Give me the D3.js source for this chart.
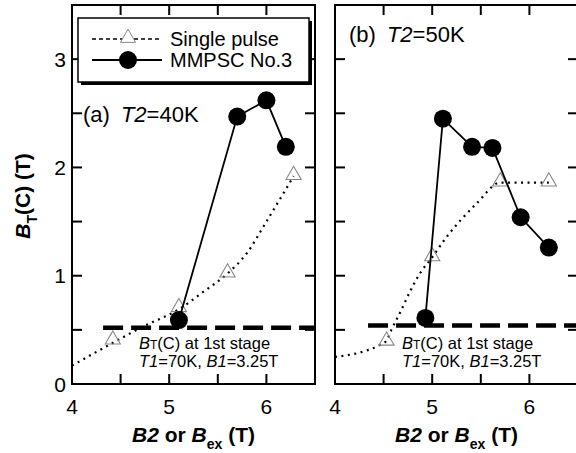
<!DOCTYPE html>
<html>
<head>
<meta charset="UTF-8" />
<style>
  body { margin: 0; background: #fff; }
  svg { font-family: "Liberation Sans", Arial, sans-serif; }
</style>
</head>
<body>
<svg id="chart" width="576" height="453"></svg>
<script src="https://cdnjs.cloudflare.com/ajax/libs/d3/7.8.5/d3.min.js"></script>
<script>
// values
const xTicks = [4, 5, 6];
const yTicks = [0, 1, 2, 3];
const minorX = [4, 4.5, 5, 5.5, 6];
const minorY = [0, 0.5, 1, 1.5, 2, 2.5, 3];

const pulseA = [[4.42, 0.40], [5.1, 0.70], [5.6, 1.02], [6.28, 1.92]];
const fitA = [[4.0, 0.17], [4.42, 0.38], [4.73, 0.53], [5.1, 0.69], [5.35, 0.85], [5.6, 1.02], [5.8, 1.21], [6.0, 1.5], [6.28, 1.92]];
const mmpscA = [[5.1, 0.59], [5.7, 2.47], [6.0, 2.62], [6.2, 2.19]];

const pulseB = [[4.53, 0.39], [5.0, 1.17], [5.7, 1.86], [6.2, 1.86]];
const fitB = [[4.0, 0.25], [4.46, 0.36], [4.53, 0.40], [4.58, 0.50], [4.67, 0.66], [4.77, 0.85], [4.88, 1.03], [5.0, 1.17], [5.15, 1.36], [5.3, 1.52], [5.46, 1.67], [5.7, 1.86], [6.2, 1.86]];
const mmpscB = [[4.93, 0.61], [5.11, 2.45], [5.41, 2.19], [5.62, 2.18], [5.91, 1.54], [6.2, 1.26]];

const firstStageA = { x0: 4.32, y: 0.52 };
const firstStageB = { x0: 4.34, y: 0.54 };

const svg = d3.select("#chart");
const plotTop = 5, plotBottom = 384;

const y = d3.scaleLinear().domain([0, 3.5]).range([plotBottom, plotTop]);
const triSymbol = d3.symbol().type(d3.symbolTriangle).size(100);

function triangle(g, pts, x) {
  g.selectAll("path.tri").data(pts).enter().append("path")
    .attr("class", "tri")
    .attr("d", triSymbol)
    .attr("transform", d => `translate(${x(d[0])},${y(d[1]) - 1})`)
    .attr("fill", "none").attr("stroke", "#888").attr("stroke-width", 1.1);
}

function panel(left, right, cfg) {
  const x = d3.scaleLinear().domain([4, 6.5]).range([left, right]);
  const g = svg.append("g");

  // ticks inward on all four sides
  const t = 10;
  minorX.forEach(v => {
    g.append("line").attr("x1", x(v)).attr("x2", x(v)).attr("y1", plotBottom).attr("y2", plotBottom - t);
    g.append("line").attr("x1", x(v)).attr("x2", x(v)).attr("y1", plotTop).attr("y2", plotTop + t);
  });
  minorY.forEach(v => {
    g.append("line").attr("x1", left).attr("x2", left + t).attr("y1", y(v)).attr("y2", y(v));
    g.append("line").attr("x1", right).attr("x2", right - t).attr("y1", y(v)).attr("y2", y(v));
  });
  g.selectAll("line").attr("stroke", "#000").attr("stroke-width", 2);

  g.append("rect").attr("x", left).attr("y", plotTop)
    .attr("width", right - left).attr("height", plotBottom - plotTop)
    .attr("fill", "none").attr("stroke", "#000").attr("stroke-width", 2);

  xTicks.forEach(v => {
    g.append("text").attr("x", x(v)).attr("y", plotBottom + 30)
      .attr("text-anchor", "middle").attr("font-size", 21).text(v);
  });
  if (cfg.yLabels) {
    yTicks.forEach(v => {
      g.append("text").attr("x", left - 6).attr("y", y(v) + 7.5)
        .attr("text-anchor", "end").attr("font-size", 21).text(v);
    });
  }

  // 1st stage level
  g.append("line")
    .attr("x1", x(cfg.stage.x0)).attr("x2", right)
    .attr("y1", y(cfg.stage.y)).attr("y2", y(cfg.stage.y))
    .attr("stroke", "#000").attr("stroke-width", 4.5)
    .attr("stroke-dasharray", "20,8");

  // single pulse fit
  g.append("path").datum(cfg.fit)
    .attr("d", d3.line().x(d => x(d[0])).y(d => y(d[1])).curve(d3.curveMonotoneX))
    .attr("fill", "none").attr("stroke", "#000").attr("stroke-width", 2.2)
    .attr("stroke-dasharray", "2,4.5");
  triangle(g, cfg.pulse, x);

  // MMPSC
  g.append("path").datum(cfg.mmpsc)
    .attr("d", d3.line().x(d => x(d[0])).y(d => y(d[1])))
    .attr("fill", "none").attr("stroke", "#000").attr("stroke-width", 1.8);
  g.selectAll("circle").data(cfg.mmpsc).enter().append("circle")
    .attr("cx", d => x(d[0])).attr("cy", d => y(d[1])).attr("r", 9).attr("fill", "#000");

  // panel label
  const lab = g.append("text").attr("x", cfg.labX).attr("y", cfg.labY).attr("font-size", 22);
  lab.append("tspan").text(cfg.tag);
  lab.append("tspan").attr("dx", 11).attr("font-style", "italic").text("T2");
  lab.append("tspan").text("=" + cfg.temp);

  // annotation
  const ax = cfg.noteX;
  const a1 = g.append("text").attr("x", ax).attr("y", 349).attr("font-size", 16.5);
  a1.append("tspan").attr("font-style", "italic").text("B");
  a1.append("tspan").attr("font-size", 12).text("T");
  a1.append("tspan").text("(C) at 1st stage");
  const a2 = g.append("text").attr("x", ax).attr("y", 367).attr("font-size", 16.5);
  a2.append("tspan").attr("font-style", "italic").text("T1");
  a2.append("tspan").text("=70K, ");
  a2.append("tspan").attr("font-style", "italic").text("B1");
  a2.append("tspan").text("=3.25T");

  // x-axis title
  const xt = g.append("text").attr("x", (left + right) / 2).attr("y", 442)
    .attr("text-anchor", "middle").attr("font-size", 21).attr("font-weight", "bold");
  xt.append("tspan").attr("font-style", "italic").text("B2");
  xt.append("tspan").text(" or ");
  xt.append("tspan").attr("font-style", "italic").text("B");
  xt.append("tspan").attr("font-size", 14).attr("dy", 7).text("ex");
  xt.append("tspan").attr("dy", -7).text(" (T)");

  return x;
}

panel(72, 315, { yLabels: true, stage: firstStageA, fit: fitA, pulse: pulseA, mmpsc: mmpscA,
  tag: "(a)", temp: "40K", labX: 83, labY: 122, noteX: 139 });
panel(335, 578, { yLabels: false, stage: firstStageB, fit: fitB, pulse: pulseB, mmpsc: mmpscB,
  tag: "(b)", temp: "50K", labX: 349, labY: 42, noteX: 402 });

// y-axis title
const yt = svg.append("text").attr("transform", "translate(30,196) rotate(-90)")
  .attr("text-anchor", "middle").attr("font-size", 21).attr("font-weight", "bold");
yt.append("tspan").attr("font-style", "italic").text("B");
yt.append("tspan").attr("font-size", 14).attr("dy", 7).text("T");
yt.append("tspan").attr("dy", -7).text("(C) (T)");

// legend with drop shadow
const lg = svg.append("g");
lg.append("rect").attr("x", 81).attr("y", 21).attr("width", 231).attr("height", 64).attr("fill", "#000");
lg.append("rect").attr("x", 78).attr("y", 18).attr("width", 231).attr("height", 64)
  .attr("fill", "#fff").attr("stroke", "#000").attr("stroke-width", 1.5);
lg.append("line").attr("x1", 92).attr("x2", 162).attr("y1", 39).attr("y2", 39)
  .attr("stroke", "#000").attr("stroke-width", 1.6).attr("stroke-dasharray", "4,3");
lg.append("path").attr("d", triSymbol)
  .attr("transform", "translate(128,38)").attr("fill", "#fff").attr("stroke", "#888");
lg.append("line").attr("x1", 92).attr("x2", 162).attr("y1", 60).attr("y2", 60)
  .attr("stroke", "#000").attr("stroke-width", 1.8);
lg.append("circle").attr("cx", 128).attr("cy", 60).attr("r", 9).attr("fill", "#000");
lg.append("text").attr("x", 170).attr("y", 46).attr("font-size", 20).text("Single pulse");
lg.append("text").attr("x", 170).attr("y", 67).attr("font-size", 20).text("MMPSC No.3");
</script>
</body>
</html>
